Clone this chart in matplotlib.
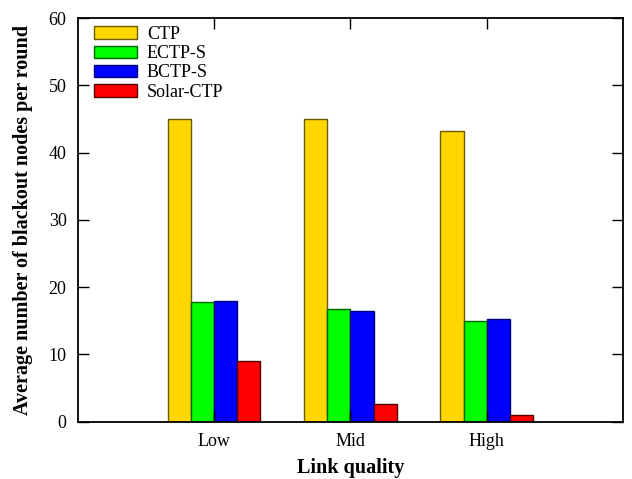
import numpy as np
import matplotlib
matplotlib.use('Agg')
import matplotlib.pyplot as plt

plt.rcParams['font.family'] = ['Liberation Serif', 'DejaVu Serif']

# data
categories = ['Low', 'Mid', 'High']
series = ['CTP', 'ECTP-S', 'BCTP-S', 'Solar-CTP']
ctp = [45.0, 45.0, 43.2]
ectp_s = [17.8, 16.7, 14.9]
bctp_s = [17.9, 16.5, 15.2]
solar_ctp = [9.0, 2.55, 0.9]

colors = ['#ffd700', '#00ff00', '#0000ff', '#ff0000']
edges = ['#6b5a00', '#006400', '#00007a', '#550000']

fig, ax = plt.subplots(figsize=(6.32, 4.79), dpi=100)
fig.subplots_adjust(left=0.123, right=0.986, top=0.962, bottom=0.12)

x = np.arange(1, len(categories) + 1)
w = 0.17
for i, (vals, name) in enumerate(zip([ctp, ectp_s, bctp_s, solar_ctp], series)):
    ax.bar(x + (i - 1.5) * w, vals, w, color=colors[i], edgecolor=edges[i],
           linewidth=1.0, label=name)

ax.set_xlim(0, 4)
ax.set_ylim(0, 60)
ax.set_xticks(x)
ax.set_xticklabels(categories)
ax.set_yticks(np.arange(0, 61, 10))
ax.tick_params(direction='in', length=8, width=1, top=True, right=True,
               labelsize=13, pad=8)
for s in ax.spines.values():
    s.set_linewidth(1.3)

ax.set_xlabel('Link quality', fontsize=14.5, fontweight='bold', labelpad=6)
ax.set_ylabel('Average number of blackout nodes per round', fontsize=14.5,
              fontweight='bold', labelpad=11)

ax.legend(loc='upper left', bbox_to_anchor=(0.006, 1.012), frameon=False,
          fontsize=13, handlelength=2.4, handleheight=0.7, labelspacing=0.12,
          borderaxespad=0.3, handletextpad=0.55)

fig.savefig('out.png', dpi=100)
